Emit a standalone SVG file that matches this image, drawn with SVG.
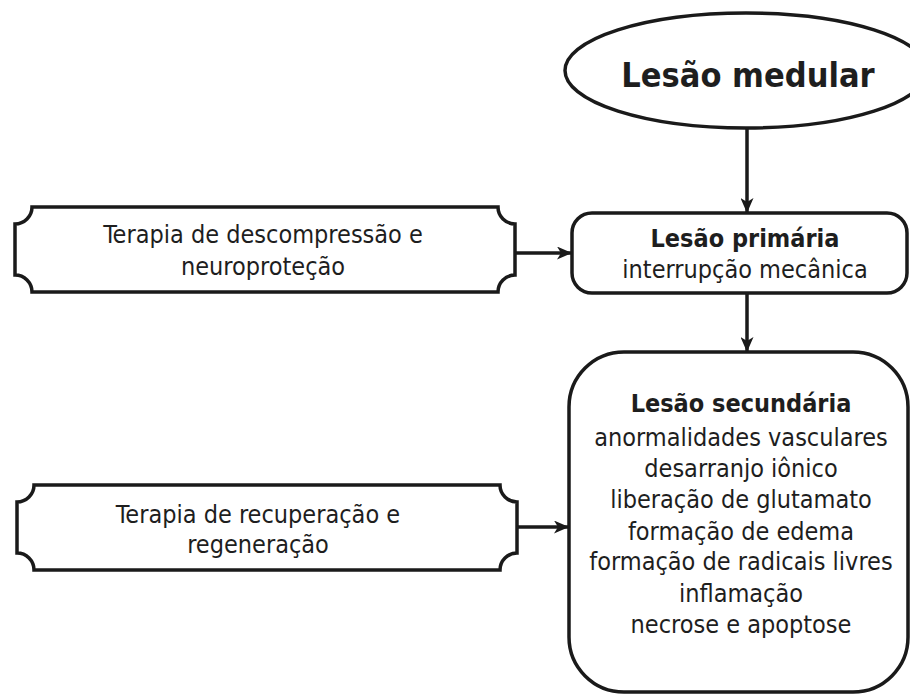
<svg xmlns="http://www.w3.org/2000/svg" width="910" height="695" viewBox="0 0 910 695">
<defs>
<marker id="arr" viewBox="0 0 15 13" refX="14" refY="6.5" markerWidth="15" markerHeight="13" markerUnits="userSpaceOnUse" orient="auto">
<path d="M0,0 L15,6.5 L0,13 L4,6.5 Z" fill="#1a1a1a"/>
</marker>
</defs>
<style>
.box{fill:#fff;stroke:#1a1a1a;stroke-width:3.5}
.edge{fill:none;stroke:#1a1a1a;stroke-width:3.5}
text{font-family:"DejaVu Sans Condensed","DejaVu Sans",sans-serif;fill:#1e1e1e;text-anchor:middle}
.t{font-size:25px}
.b{font-size:25px;font-weight:bold}
.big{font-size:34px;font-weight:bold}
</style>
<rect width="910" height="695" fill="#fff"/>
<g id="lesao-medular">
<ellipse class="box" cx="746" cy="70.5" rx="181" ry="57.5"/>
<text class="big" x="748" y="87">Lesão medular</text>
</g>
<g id="terapia-descompressao">
<path class="box" d="M32,207 H498 A17,17 0 0 0 515,224 V275 A17,17 0 0 0 498,292 H32 A17,17 0 0 0 15,275 V224 A17,17 0 0 0 32,207 Z"/>
<text class="t" x="263" y="243">Terapia de descompressão e</text>
<text class="t" x="263" y="275">neuroproteção</text>
</g>
<g id="lesao-primaria">
<rect class="box" x="572" y="213" width="335" height="80" rx="20" ry="20"/>
<text class="b" x="745" y="247">Lesão primária</text>
<text class="t" x="745" y="278">interrupção mecânica</text>
</g>
<g id="terapia-recuperacao">
<path class="box" d="M34,485 H500 A17,17 0 0 0 517,502 V553 A17,17 0 0 0 500,570 H34 A17,17 0 0 0 17,553 V502 A17,17 0 0 0 34,485 Z"/>
<text class="t" x="258" y="523">Terapia de recuperação e</text>
<text class="t" x="258" y="553">regeneração</text>
</g>
<g id="lesao-secundaria">
<rect class="box" x="569" y="352" width="339" height="340" rx="55" ry="55"/>
<text class="b" x="741" y="412">Lesão secundária</text>
<text class="t" x="741" y="446">anormalidades vasculares</text>
<text class="t" x="741" y="477">desarranjo iônico</text>
<text class="t" x="741" y="508">liberação de glutamato</text>
<text class="t" x="741" y="540">formação de edema</text>
<text class="t" x="741" y="570">formação de radicais livres</text>
<text class="t" x="741" y="602">inflamação</text>
<text class="t" x="741" y="633">necrose e apoptose</text>
</g>
<g id="connectors">
<line class="edge" x1="747" y1="128" x2="747" y2="212" marker-end="url(#arr)"/>
<line class="edge" x1="515" y1="253" x2="571" y2="253" marker-end="url(#arr)"/>
<line class="edge" x1="747" y1="293" x2="747" y2="351" marker-end="url(#arr)"/>
<line class="edge" x1="517" y1="527" x2="568" y2="527" marker-end="url(#arr)"/>
</g>
</svg>
